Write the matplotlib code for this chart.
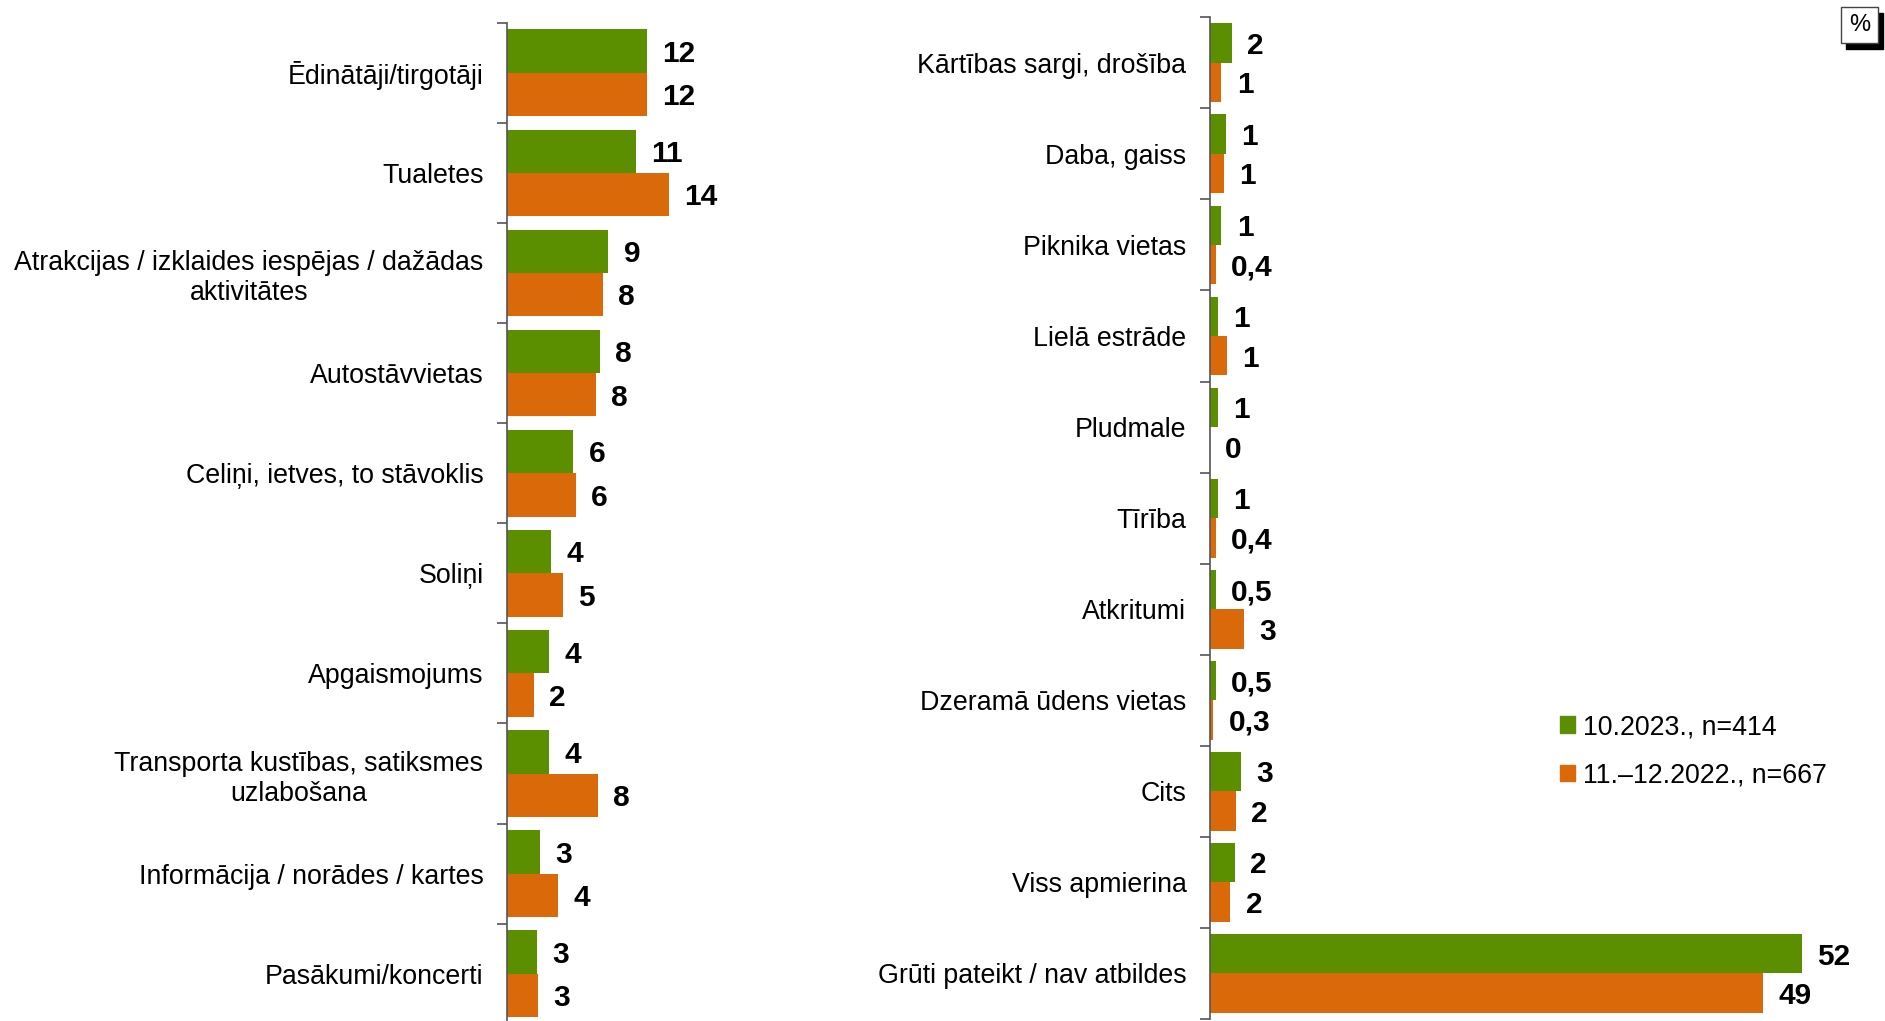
import matplotlib.pyplot as plt
from matplotlib.patches import Patch, Rectangle

plt.rcParams['font.family'] = ['Liberation Sans', 'DejaVu Sans']

# Data
left_cats = ['Ēdinātāji/tirgotāji', 'Tualetes',
             'Atrakcijas / izklaides iespējas / dažādas\naktivitātes',
             'Autostāvvietas', 'Celiņi, ietves, to stāvoklis', 'Soliņi',
             'Apgaismojums', 'Transporta kustības, satiksmes\nuzlabošana',
             'Informācija / norādes / kartes', 'Pasākumi/koncerti']
left_2023 = [12.0, 11.1, 8.7, 8.0, 5.7, 3.8, 3.6, 3.6, 2.8, 2.6]
left_2022 = [12.0, 13.9, 8.2, 7.6, 5.9, 4.8, 2.3, 7.8, 4.4, 2.7]
left_2023_lbl = ['12', '11', '9', '8', '6', '4', '4', '4', '3', '3']
left_2022_lbl = ['12', '14', '8', '8', '6', '5', '2', '8', '4', '3']

right_cats = ['Kārtības sargi, drošība', 'Daba, gaiss', 'Piknika vietas',
              'Lielā estrāde', 'Pludmale', 'Tīrība', 'Atkritumi',
              'Dzeramā ūdens vietas', 'Cits', 'Viss apmierina',
              'Grūti pateikt / nav atbildes']
right_2023 = [1.9, 1.4, 1.0, 0.7, 0.7, 0.7, 0.5, 0.5, 2.7, 2.2, 52.0]
right_2022 = [1.0, 1.2, 0.5, 1.5, 0.0, 0.5, 3.0, 0.3, 2.3, 1.8, 48.6]
right_2023_lbl = ['2', '1', '1', '1', '1', '1', '0,5', '0,5', '3', '2', '52']
right_2022_lbl = ['1', '1', '0,4', '1', '0', '0,4', '3', '0,3', '2', '2', '49']

series_names = ['10.2023., n=414', '11.–12.2022., n=667']
green = '#5b8f00'
orange = '#da690a'
spine_col = '#555555'

W, H = 1885, 1021
fig = plt.figure(figsize=(W / 100, H / 100), dpi=100)


def draw_panel(ax, cats, v1, v2, l1, l2, xmax):
    n = len(cats)
    pos = list(range(n))
    h = 0.433
    ax.barh([p - h / 2 for p in pos], v1, height=h, color=green)
    ax.barh([p + h / 2 for p in pos], v2, height=h, color=orange)
    for p, v, t in zip(pos, v1, l1):
        ax.annotate(t, (v, p - h / 2), xytext=(11, -2), textcoords='offset points',
                    va='center', ha='left', fontsize=21.5, fontweight='bold')
    for p, v, t in zip(pos, v2, l2):
        ax.annotate(t, (v, p + h / 2), xytext=(11, -2), textcoords='offset points',
                    va='center', ha='left', fontsize=21.5, fontweight='bold')
    ax.set_ylim(n - 0.5, -0.5)
    ax.set_xlim(0, xmax)
    ax.set_yticks(pos)
    ax.set_yticklabels(cats, fontsize=19.3, multialignment='center')
    ax.set_yticks([p - 0.5 for p in range(n + 1)], minor=True)
    ax.tick_params(axis='y', which='major', length=0, pad=17)
    ax.tick_params(axis='y', which='minor', length=7, width=1.2, color=spine_col)
    ax.set_xticks([])
    for s in ['top', 'right', 'bottom']:
        ax.spines[s].set_visible(False)
    ax.spines['left'].set_color(spine_col)
    ax.spines['left'].set_linewidth(1.2)


# Left panel
ax1 = fig.add_axes([507 / W, 1 - 1023.8 / H, 493 / W, (1023.8 - 22.7) / H])
draw_panel(ax1, left_cats, left_2023, left_2022, left_2023_lbl, left_2022_lbl, 493 / 11.65)

# Right panel
ax2 = fig.add_axes([1210 / W, 1 - 1019 / H, 670 / W, (1019 - 17.3) / H])
draw_panel(ax2, right_cats, right_2023, right_2022, right_2023_lbl, right_2022_lbl, 670 / 11.38)

# Legend
handles = [Patch(color=green), Patch(color=orange)]
fig.legend(handles, series_names, loc='upper left',
           bbox_to_anchor=(1560 / W, 1 - 714 / H), frameon=False,
           fontsize=19.3, handlelength=0.55, handleheight=0.55,
           handletextpad=0.3, labelspacing=0.83, borderpad=0, borderaxespad=0)

# "%" box with shadow
fig.patches.append(Rectangle((1846 / W, 1 - 49 / H), 37 / W, 36 / H,
                             transform=fig.transFigure, color='black', zorder=5))
fig.patches.append(Rectangle((1841 / W, 1 - 43 / H), 37 / W, 36 / H,
                             transform=fig.transFigure, facecolor='white',
                             edgecolor='#444444', linewidth=1, zorder=6))
fig.text(1859.5 / W, 1 - 25 / H, '%', ha='center', va='center', fontsize=17, zorder=7)

fig.savefig('out.png', dpi=100)
